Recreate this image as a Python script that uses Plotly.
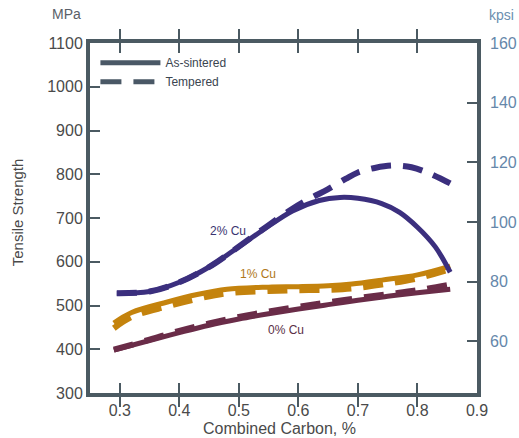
import plotly.graph_objects as go

# ---- data ----
carbon_2_solid = [0.295, 0.35, 0.40, 0.45, 0.485, 0.54, 0.59, 0.635, 0.67, 0.70, 0.74, 0.77, 0.80, 0.83, 0.855]
mpa_2_solid = [528, 532, 553, 588, 620, 672, 716, 740, 747, 745, 733, 713, 679, 634, 576]

carbon_2_temp = [0.295, 0.35, 0.40, 0.45, 0.485, 0.54, 0.59, 0.62, 0.65, 0.68, 0.70, 0.73, 0.76, 0.79, 0.82, 0.855]
mpa_2_temp = [528, 532, 553, 588, 620, 674, 721, 745, 766, 790, 804, 815, 820, 816, 802, 779]

carbon_1 = [0.29, 0.32, 0.38, 0.43, 0.48, 0.55, 0.60, 0.65, 0.69, 0.74, 0.80, 0.855]
mpa_1_solid = [460, 484, 508, 525, 537, 542, 543, 545, 549, 558, 570, 590]
mpa_1_temp = [448, 474, 498, 515, 528, 533, 535, 536, 539, 548, 562, 583]

carbon_0 = [0.29, 0.35, 0.40, 0.45, 0.50, 0.55, 0.60, 0.65, 0.70, 0.75, 0.80, 0.855]
mpa_0_solid = [398, 420, 438, 455, 469, 481, 492, 502, 512, 521, 529, 537]
mpa_0_temp = [399, 422, 442, 459, 474, 486, 497, 507, 517, 526, 535, 548]

x_ticks = [0.3, 0.4, 0.5, 0.6, 0.7, 0.8, 0.9]
mpa_ticks = [300, 400, 500, 600, 700, 800, 900, 1000, 1100]
kpsi_ticks = [60, 80, 100, 120, 140, 160]

series_labels = ["2% Cu", "1% Cu", "0% Cu"]
label_pos_x = [0.482, 0.532, 0.58]
label_pos_y = [671, 573, 445]

# ---- styles ----
PURPLE = "#3b2f7e"
ORANGE = "#c4830d"
MAROON = "#6a2c48"
AXIS = "#4b5a62"
FONT = "Liberation Sans, Arial, sans-serif"
DASH = "20px,12px"

fig = go.Figure()

def add(x, y, color, dashed):
    fig.add_trace(go.Scatter(
        x=x, y=y, mode="lines", showlegend=False, hoverinfo="skip",
        line=dict(color=color, width=6 if dashed else 5, shape="spline",
                  dash=DASH if dashed else "solid"),
    ))

add(carbon_0, mpa_0_temp, MAROON, True)
add(carbon_0, mpa_0_solid, MAROON, False)
add(carbon_1, mpa_1_temp, ORANGE, True)
add(carbon_1, mpa_1_solid, ORANGE, False)
add(carbon_2_temp, mpa_2_temp, PURPLE, True)
add(carbon_2_solid, mpa_2_solid, PURPLE, False)

# legend entries
fig.add_trace(go.Scatter(x=[None], y=[None], mode="lines", name="As-sintered",
                         line=dict(color="#4a5866", width=5)))
fig.add_trace(go.Scatter(x=[None], y=[None], mode="lines", name="Tempered",
                         line=dict(color="#4a5866", width=5, dash="21px,12px")))

# secondary axis carrier (invisible)
fig.add_trace(go.Scatter(x=[None], y=[None], yaxis="y2", showlegend=False, hoverinfo="skip"))

label_colors = ["#3a3470", "#b07818", "#5a2f45"]
for t, xx, yy, c in zip(series_labels, label_pos_x, label_pos_y, label_colors):
    fig.add_annotation(x=xx, y=yy, text=t, showarrow=False,
                       font=dict(family=FONT, size=12, color=c))

fig.add_annotation(xref="paper", yref="paper", x=-0.06, y=1.0, yshift=29,
                   text="MPa", showarrow=False, xanchor="center", yanchor="middle",
                   font=dict(family=FONT, size=14, color="#5a6068"))
fig.add_annotation(xref="paper", yref="paper", x=1.063, y=1.0, yshift=28,
                   text="kpsi", showarrow=False, xanchor="center", yanchor="middle",
                   font=dict(family=FONT, size=14, color="#6b8fb0"))
fig.add_annotation(xref="paper", yref="paper", x=-0.188, y=0.5, yshift=6,
                   text="Tensile Strength", showarrow=False, textangle=-90,
                   xanchor="center", yanchor="middle",
                   font=dict(family=FONT, size=15, color="#4a4a4a"))
fig.add_annotation(xref="paper", yref="paper", x=0.5, y=0, yshift=-35, xshift=-4,
                   text="Combined Carbon, %", showarrow=False,
                   xanchor="center", yanchor="middle",
                   font=dict(family=FONT, size=16, color="#4a4a4a"))

fig.update_layout(
    width=519, height=438,
    margin=dict(l=90, r=42, t=43, b=45, autoexpand=False),
    paper_bgcolor="white", plot_bgcolor="white",
    font=dict(family=FONT, size=16, color="#444444"),
    showlegend=True,
    legend=dict(x=0.014, y=0.985, xanchor="left", yanchor="top",
                bgcolor="rgba(0,0,0,0)", font=dict(family=FONT, size=12, color="#3a4550"),
                tracegroupgap=0, itemwidth=60),
    xaxis=dict(range=[0.25, 0.9], tickvals=x_ticks, ticktext=[f"{v:.1f}" for v in x_ticks],
               showgrid=False, zeroline=False, automargin=False,
               showline=True, linecolor=AXIS, linewidth=4, mirror="allticks",
               ticks="inside", ticklen=10, tickwidth=1.5, tickcolor=AXIS,
               tickfont=dict(family=FONT, size=16, color="#4a4a4a")),
    yaxis=dict(range=[300, 1100], tickvals=mpa_ticks, showgrid=False, zeroline=False,
               automargin=False,
               showline=True, linecolor=AXIS, linewidth=4, mirror=True,
               ticks="inside", ticklen=10, tickwidth=1.5, tickcolor=AXIS,
               tickfont=dict(family=FONT, size=16, color="#4a4a4a")),
    yaxis2=dict(range=[42.6, 160.05], tickvals=kpsi_ticks, overlaying="y", side="right",
                showgrid=False, zeroline=False, showline=False, automargin=False,
                ticks="inside", ticklen=10, tickwidth=1.5, tickcolor=AXIS,
                ticklabelstandoff=12,
                tickfont=dict(family=FONT, size=16, color="#6587aa")),
)

fig.write_html("out.html", config={"displayModeBar": False},
               post_script="document.body.style.margin='0px';document.body.style.overflow='hidden';")
